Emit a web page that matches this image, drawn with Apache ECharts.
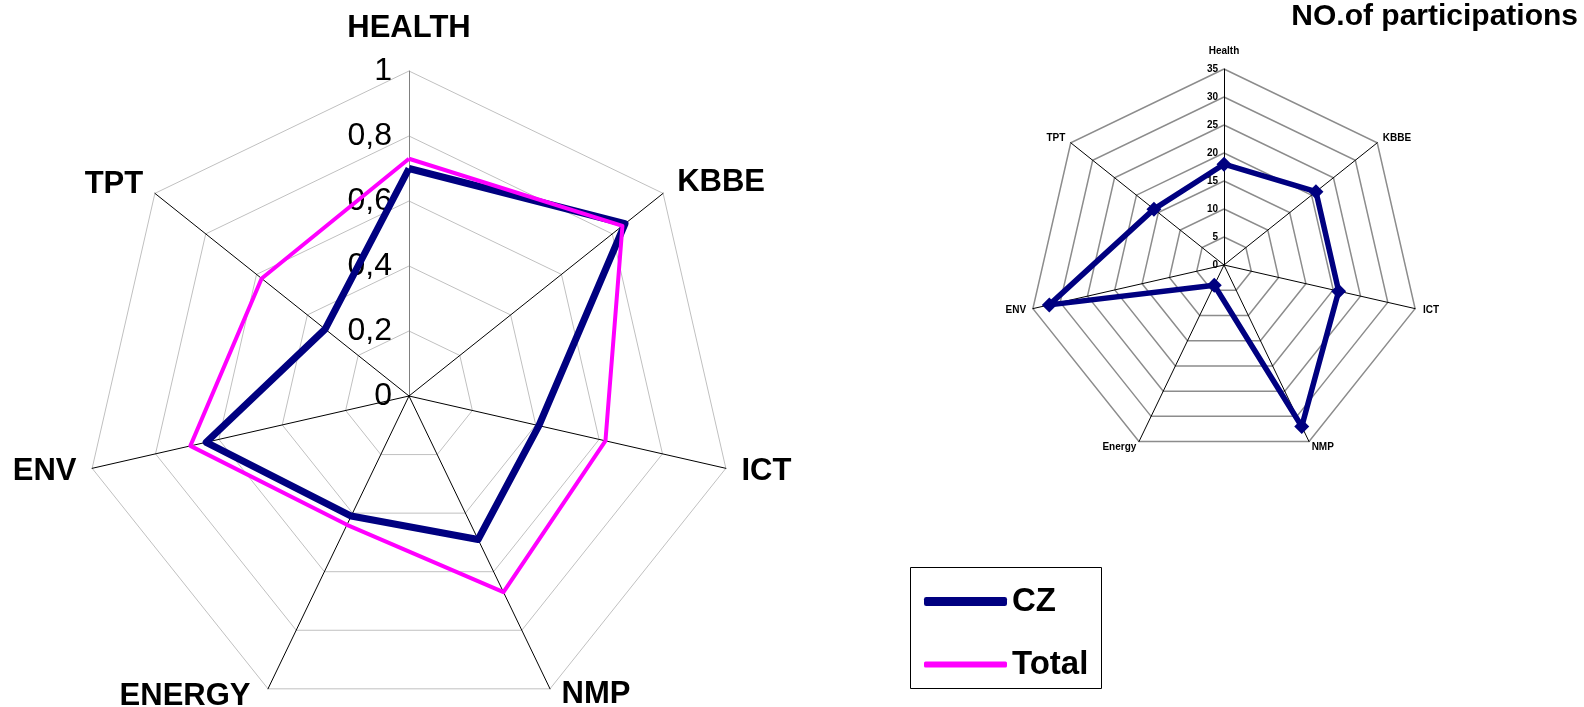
<!DOCTYPE html>
<html>
<head>
<meta charset="utf-8">
<title>Participation radar</title>
<script src="https://cdn.jsdelivr.net/npm/echarts@6/dist/echarts.min.js"></script>
<style>
  html, body { margin: 0; padding: 0; background: #fff; }
  #chart { width: 1584px; height: 707px; }
</style>
</head>
<body>
<div id="chart"></div>
<script>
// share of participation (left radar)
const shareNames = ['HEALTH', 'KBBE', 'ICT', 'NMP', 'ENERGY', 'ENV', 'TPT'];
const czShare = [0.70, 0.85, 0.41, 0.49, 0.41, 0.64, 0.33];
const totalShare = [0.73, 0.84, 0.62, 0.67, 0.44, 0.69, 0.58];
const shareMax = 1;
const shareSplits = 5;

// number of participations (right radar)
const countNames = ['Health', 'KBBE', 'ICT', 'NMP', 'Energy', 'ENV', 'TPT'];
const czCount = [18, 21, 21, 32, 4, 32, 16];
const countMax = 35;
const countSplits = 7;

const seriesNames = ['CZ', 'Total'];
const titleText = 'NO.of participations';

const FONT = '"Liberation Sans", Arial, sans-serif';
const NAVY = '#000080';
const MAGENTA = '#ff00ff';

// echarts lays indicators out counter-clockwise, the source goes clockwise
const order = [0, 6, 5, 4, 3, 2, 1];
const pick = (arr) => order.map((i) => arr[i]);

const chart = echarts.init(document.getElementById('chart'), null, { renderer: 'canvas' });

// label gaps per axis (same order as the names)
const leftGaps = [27, 18, 16, 6, 8, 16, 15];
const rightGaps = [13, 7, 8, 6, 6, 7, 7];

const leftIndicators = shareNames.map((name, i) => {
  const ind = { name: name, min: 0, max: shareMax, nameGap: leftGaps[i] };
  if (i === 0) {
    ind.axisLabel = {
      show: true,
      fontSize: 32,
      fontFamily: FONT,
      color: '#000',
      margin: 17,
      padding: [0, 0, 7, 0],
      formatter: (v) => String(+v.toFixed(1)).replace('.', ','),
    };
    ind.axisLine = { lineStyle: { color: '#808080', width: 1 } };
  }
  if (name === 'ENERGY') ind.nameTextStyle = { padding: [0, 14, 0, 0] };
  if (name === 'NMP') ind.nameTextStyle = { padding: [0, 0, 0, 9] };
  return ind;
});

const rightIndicators = countNames.map((name, i) => {
  const ind = { name: name, min: 0, max: countMax, nameGap: rightGaps[i] };
  if (i === 0) {
    ind.axisLabel = {
      show: true,
      fontSize: 10,
      fontWeight: 'bold',
      fontFamily: FONT,
      color: '#000',
      margin: 6,
      formatter: (v) => String(Math.round(v)),
    };
  }
  return ind;
});

chart.setOption({
  animation: false,
  textStyle: { fontFamily: FONT },
  title: {
    text: titleText,
    right: 6,
    top: 2,
    padding: 0,
    textStyle: { fontSize: 30, fontWeight: 'bold', color: '#000', fontFamily: FONT },
  },
  legend: [{
    data: [seriesNames[0]],
    left: 919,
    top: 580,
    icon: 'roundRect',
    itemWidth: 83,
    itemHeight: 9,
    textStyle: { fontSize: 33, fontWeight: 'bold', color: '#000', fontFamily: FONT },
  }, {
    data: [seriesNames[1]],
    left: 919,
    top: 643,
    icon: 'roundRect',
    itemWidth: 83,
    itemHeight: 6,
    textStyle: { fontSize: 33, fontWeight: 'bold', color: '#000', fontFamily: FONT },
  }],
  graphic: [{
    type: 'rect',
    shape: { x: 910.5, y: 567.5, width: 191, height: 121 },
    style: { fill: 'none', stroke: '#000', lineWidth: 1 },
    silent: true,
  }],
  radar: [{
    center: [409, 396],
    radius: 325,
    startAngle: 90,
    shape: 'polygon',
    splitNumber: shareSplits,
    indicator: pick(leftIndicators),
    axisName: { color: '#000', fontSize: 31, fontWeight: 'bold', fontFamily: FONT },
    axisLine: { lineStyle: { color: '#000', width: 1 } },
    splitLine: { lineStyle: { color: '#c0c0c0', width: 1 } },
    splitArea: { show: false },
    axisTick: { show: false },
    axisLabel: { show: false },
  }, {
    center: [1224, 265],
    radius: 196,
    startAngle: 90,
    shape: 'polygon',
    splitNumber: countSplits,
    indicator: pick(rightIndicators),
    axisName: { color: '#000', fontSize: 10, fontWeight: 'bold', fontFamily: FONT },
    axisLine: { lineStyle: { color: '#000', width: 1 } },
    splitLine: { lineStyle: { color: '#8c8c8c', width: 1.5 } },
    splitArea: { show: false },
    axisTick: { show: false },
    axisLabel: { show: false },
  }],
  series: [{
    type: 'radar',
    radarIndex: 0,
    symbol: 'none',
    data: [{
      name: seriesNames[0],
      value: pick(czShare),
      lineStyle: { color: NAVY, width: 7 },
      itemStyle: { color: NAVY },
    }, {
      name: seriesNames[1],
      value: pick(totalShare),
      lineStyle: { color: MAGENTA, width: 4 },
      itemStyle: { color: MAGENTA },
    }],
  }, {
    type: 'radar',
    radarIndex: 1,
    symbol: 'diamond',
    symbolSize: 15,
    data: [{
      name: seriesNames[0],
      value: pick(czCount),
      lineStyle: { color: NAVY, width: 5.5 },
      itemStyle: { color: NAVY },
    }],
  }],
});
</script>
</body>
</html>
